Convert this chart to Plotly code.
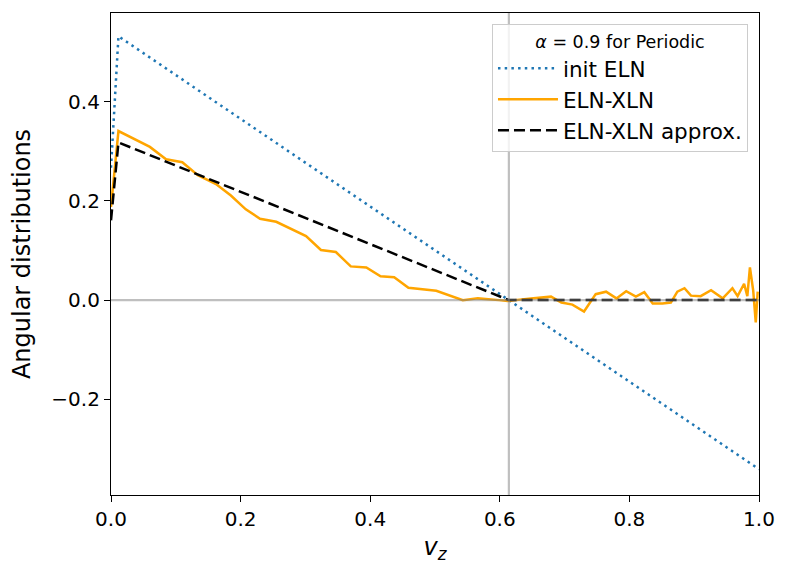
import plotly.graph_objects as go

# ---- data ----
v_init = [0.0, 0.0115, 1.0]
init_eln = [0.267, 0.532, -0.341]

v_xln = [0.0, 0.0115, 0.060, 0.085, 0.110, 0.134, 0.162, 0.185, 0.208, 0.230,
         0.255, 0.278, 0.301, 0.324, 0.347, 0.370, 0.394, 0.416, 0.437, 0.459,
         0.502, 0.543, 0.566, 0.599, 0.612, 0.648, 0.679, 0.695, 0.712, 0.730,
         0.748, 0.764, 0.780, 0.795, 0.810, 0.823, 0.836, 0.851, 0.864, 0.874,
         0.885, 0.895, 0.910, 0.926, 0.944, 0.959, 0.967, 0.977, 0.982, 0.986,
         0.991, 0.995, 0.998]
eln_xln = [0.188, 0.341, 0.309, 0.284, 0.278, 0.252, 0.234, 0.211, 0.183, 0.164,
           0.158, 0.144, 0.129, 0.101, 0.097, 0.068, 0.066, 0.048, 0.046, 0.025,
           0.019, 0.000, 0.0035, 0.000, -0.002, 0.0035, 0.007, -0.005, -0.009, -0.023,
           0.012, 0.017, 0.0035, 0.018, 0.007, 0.016, -0.007, -0.007, -0.005, 0.017,
           0.024, 0.009, 0.008, 0.020, 0.0035, 0.024, 0.008, 0.033, 0.008, 0.066,
           0.020, -0.045, 0.017]

v_approx = [0.0, 0.0115, 0.614, 1.0]
eln_xln_approx = [0.161, 0.318, 0.0, 0.0]

v_cross = 0.614
x_ticks = [0.0, 0.2, 0.4, 0.6, 0.8, 1.0]
y_ticks = [-0.2, 0.0, 0.2, 0.4]

FONT = "DejaVu Sans"

fig = go.Figure()
fig.add_trace(go.Scatter(x=v_init, y=init_eln, mode="lines", name="init ELN",
                         line=dict(color="#1f77b4", width=2.5, dash="2.5px,4.2px")))
fig.add_trace(go.Scatter(x=v_xln, y=eln_xln, mode="lines", name="ELN-XLN",
                         line=dict(color="#FFA500", width=2.5)))
fig.add_trace(go.Scatter(x=v_approx, y=eln_xln_approx, mode="lines", name="ELN-XLN approx.",
                         line=dict(color="black", width=2.5, dash="11px,5px")))

fig.add_hline(y=0, line=dict(color="rgba(128,128,128,0.5)", width=2.2), layer="above")
fig.add_vline(x=v_cross, line=dict(color="rgba(128,128,128,0.5)", width=2.2), layer="above")

fig.update_layout(
    width=789, height=574,
    margin=dict(l=103, r=38, t=5, b=87),
    plot_bgcolor="white", paper_bgcolor="white",
    font=dict(family=FONT, color="black"),
    showlegend=True,
    legend=dict(
        x=0.983, y=0.977, xanchor="right", yanchor="top",
        bgcolor="rgba(255,255,255,0.8)", bordercolor="#cccccc", borderwidth=1,
        font=dict(family=FONT, size=21.5),
        tracegroupgap=0, itemwidth=60,
        title=dict(text="<i>α</i> = 0.9 for Periodic", side="top center",
                   font=dict(family=FONT, size=17.5)),
    ),
    xaxis=dict(
        range=[0, 1], tickvals=x_ticks, tickformat=".1f",
        showgrid=False, zeroline=False,
        showline=True, linecolor="black", linewidth=1.2, mirror=True,
        ticks="outside", ticklen=6, tickwidth=1.2, tickcolor="black",
        tickfont=dict(family=FONT, size=20),
        title=dict(text="<i>v<sub>z</sub></i>", font=dict(family=FONT, size=24), standoff=8),
    ),
    yaxis=dict(
        range=[-0.393, 0.579], tickvals=y_ticks, tickformat=".1f",
        showgrid=False, zeroline=False,
        showline=True, linecolor="black", linewidth=1.2, mirror=True,
        ticks="outside", ticklen=6, tickwidth=1.2, tickcolor="black",
        tickfont=dict(family=FONT, size=20),
        title=dict(text="Angular distributions", font=dict(family=FONT, size=24), standoff=14),
    ),
)

fig.write_html("out.html")
